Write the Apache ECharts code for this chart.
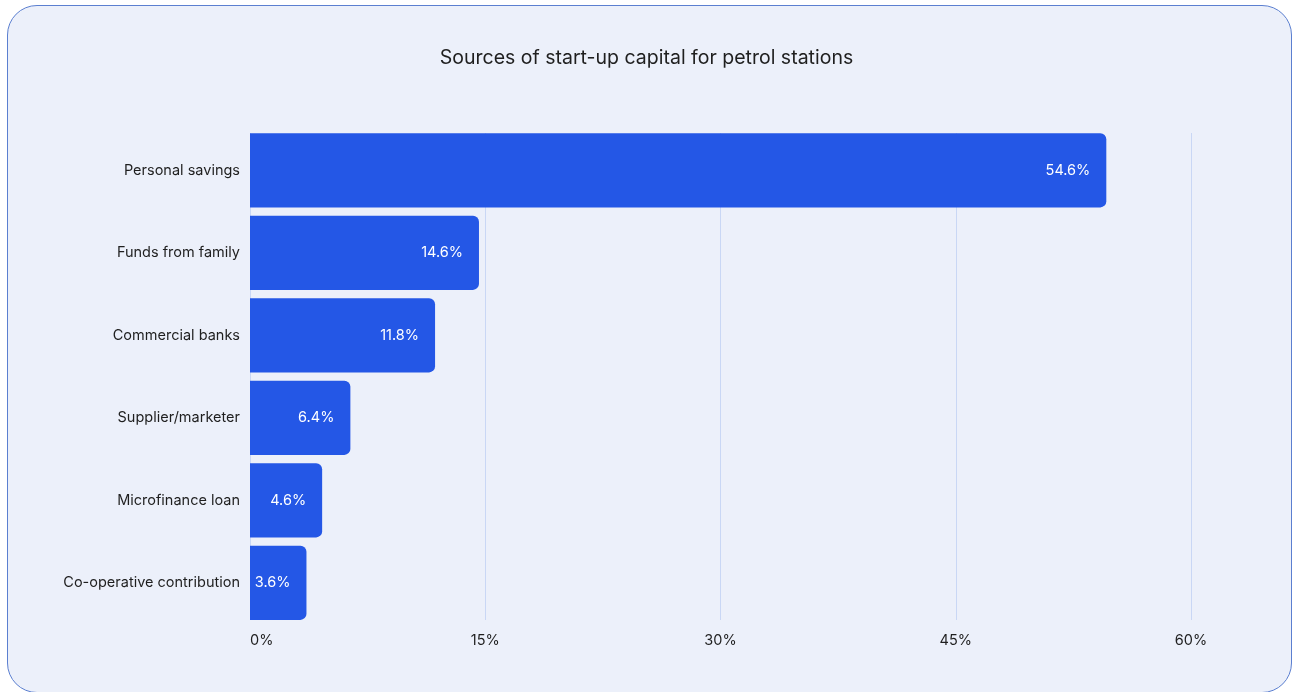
<!DOCTYPE html>
<html>
<head>
<meta charset="utf-8">
<script src="https://cdn.jsdelivr.net/npm/echarts@6/dist/echarts.min.js"></script>
<style>
  html, body { margin: 0; padding: 0; background: #ffffff; overflow: hidden; }
  #frame {
    position: absolute; left: 7px; top: 5px; width: 1283px; height: 686px;
    border: 1.5px solid #5b7fd0; border-radius: 30px; background: #ecf0fa;
  }
  #chart { position: absolute; left: 0; top: 0; width: 1293px; height: 692px; }
</style>
</head>
<body>
<div id="frame"></div>
<div id="chart"></div>
<script>
// Start-up capital sources, share of respondents (%)
const categories = [
  'Personal savings',
  'Funds from family',
  'Commercial banks',
  'Supplier/marketer',
  'Microfinance loan',
  'Co-operative contribution'
];
const shares = [54.6, 14.6, 11.8, 6.4, 4.6, 3.6];
const axisTicks = [0, 15, 30, 45, 60];

const font = 'Inter, "Noto Sans", sans-serif';
const ink = '#1f1f1f';
const chart = echarts.init(document.getElementById('chart'), null, { renderer: 'canvas' });

const xMin = axisTicks[0];
const xMax = axisTicks[axisTicks.length - 1];
const xStep = axisTicks[1] - axisTicks[0];

chart.setOption({
  backgroundColor: 'transparent',
  title: {
    text: 'Sources of start-up capital for petrol stations',
    left: 'center',
    top: 43,
    textStyle: { fontFamily: font, fontSize: 19.5, fontWeight: 'normal', color: ink }
  },
  // grid 0 holds the bars; grid 1 only draws the grid lines and tick labels,
  // trimmed so the lines run exactly from the first bar's top to the last bar's bottom
  grid: [
    { left: 250, right: 102, top: 129, bottom: 68 },
    { left: 250, right: 102, top: 133, bottom: 72 }
  ],
  xAxis: [
    {
      gridIndex: 0, type: 'value', min: xMin, max: xMax, interval: xStep,
      axisLine: { show: false }, axisTick: { show: false },
      splitLine: { show: false }, axisLabel: { show: false }
    },
    {
      gridIndex: 1, type: 'value', min: xMin, max: xMax, interval: xStep,
      axisLine: { show: false }, axisTick: { show: false },
      splitLine: { show: true, lineStyle: { color: '#c9d7f5', width: 1 } },
      axisLabel: {
        formatter: v => v + '%',
        margin: 13,
        alignMinLabel: 'left',
        color: ink,
        fontFamily: font,
        fontSize: 14.5
      }
    }
  ],
  yAxis: [
    {
      gridIndex: 0, type: 'category', data: categories, inverse: true,
      axisLine: { show: false }, axisTick: { show: false },
      axisLabel: { margin: 10, color: ink, fontFamily: font, fontSize: 14.5 }
    },
    {
      gridIndex: 1, type: 'category', data: categories, inverse: true,
      axisLine: { show: false }, axisTick: { show: false }, axisLabel: { show: false }
    }
  ],
  series: [{
    type: 'bar',
    xAxisIndex: 0,
    yAxisIndex: 0,
    data: shares,
    barCategoryGap: '10%',
    z: 3,
    itemStyle: { color: '#2457e6', borderRadius: [0, 6, 6, 0] },
    label: {
      show: true,
      position: 'insideRight',
      distance: 16,
      formatter: p => p.value.toFixed(1) + '%',
      color: '#ffffff',
      fontFamily: font,
      fontSize: 14.5
    }
  }]
});
</script>
</body>
</html>
